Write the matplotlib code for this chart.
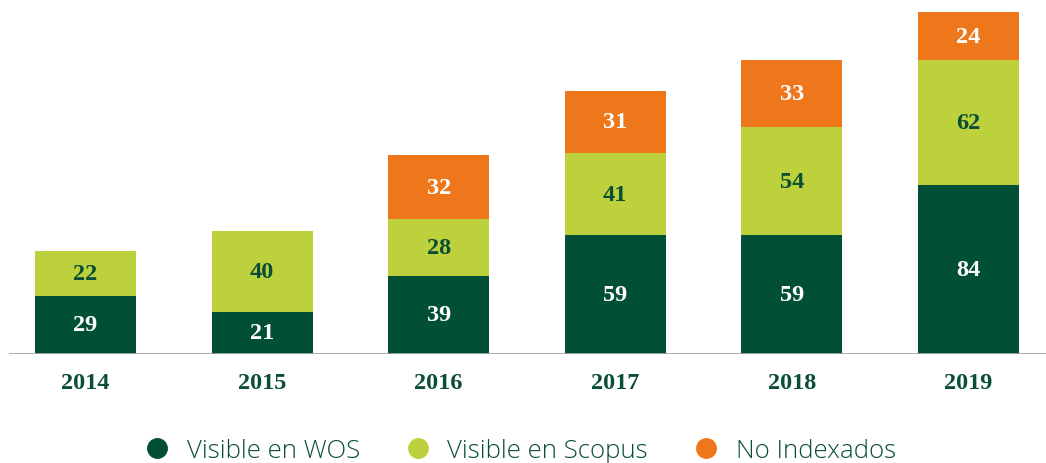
import matplotlib
matplotlib.use("Agg")
import matplotlib.pyplot as plt
from matplotlib.lines import Line2D
import numpy as np

DARK = "#024F38"
LIME = "#BDD13D"
ORANGE = "#EE761B"
TEXT = "#0B4E36"
AXIS = "#A6A6A6"

years = ["2014", "2015", "2016", "2017", "2018", "2019"]
wos = [29, 21, 39, 59, 59, 84]
scopus = [22, 40, 28, 41, 54, 62]
no_idx = [0, 0, 32, 31, 33, 24]
series_names = ["Visible en WOS", "Visible en Scopus", "No Indexados"]

fig = plt.figure(figsize=(10.46, 4.64), dpi=100)
ax = fig.add_axes([9 / 1046, 109 / 464, 1 - 9 / 1046, 353 / 464])

x = np.arange(len(years))
w = 0.572
num_font = dict(family=["Liberation Serif", "DejaVu Serif"], fontweight="bold", fontsize=17.5)

b1 = ax.bar(x, wos, w, color=DARK, zorder=2)
b2 = ax.bar(x, scopus, w, bottom=wos, color=LIME, zorder=2)
bottom3 = np.array(wos) + np.array(scopus)
b3 = ax.bar(x, no_idx, w, bottom=bottom3, color=ORANGE, zorder=2)

for bars, vals, bots, col in [(b1, wos, np.zeros(6), "white"),
                              (b2, scopus, np.array(wos), TEXT),
                              (b3, no_idx, bottom3, "white")]:
    for bar, v, b in zip(bars, vals, bots):
        if v == 0:
            continue
        ax.text(bar.get_x() + bar.get_width() / 2, b + v / 2, str(v),
                ha="center", va="center", color=col, zorder=3, **num_font)

ax.set_xlim(-0.433, 5.439)
ax.set_ylim(0, 175.5)
ax.axhline(0, color=AXIS, linewidth=2, zorder=4)

ax.set_xticks(x)
ax.set_xticklabels(years, color=TEXT, **num_font)
ax.tick_params(axis="x", length=0, pad=13)
ax.set_yticks([])
for spine in ax.spines.values():
    spine.set_visible(False)

handles = [Line2D([], [], linestyle="none", marker="o", markersize=14,
                  markerfacecolor=c, markeredgecolor=c)
           for c in (DARK, LIME, ORANGE)]
leg = fig.legend(handles, series_names, loc="center", bbox_to_anchor=(0.497, 0.026),
                 ncol=3, frameon=False, handlelength=1.0, handletextpad=0.66,
                 columnspacing=1.75,
                 prop=dict(family="Open Sans", size=18.5, weight="light"))
for t in leg.get_texts():
    t.set_color(TEXT)

fig.savefig("out.png", dpi=100)
